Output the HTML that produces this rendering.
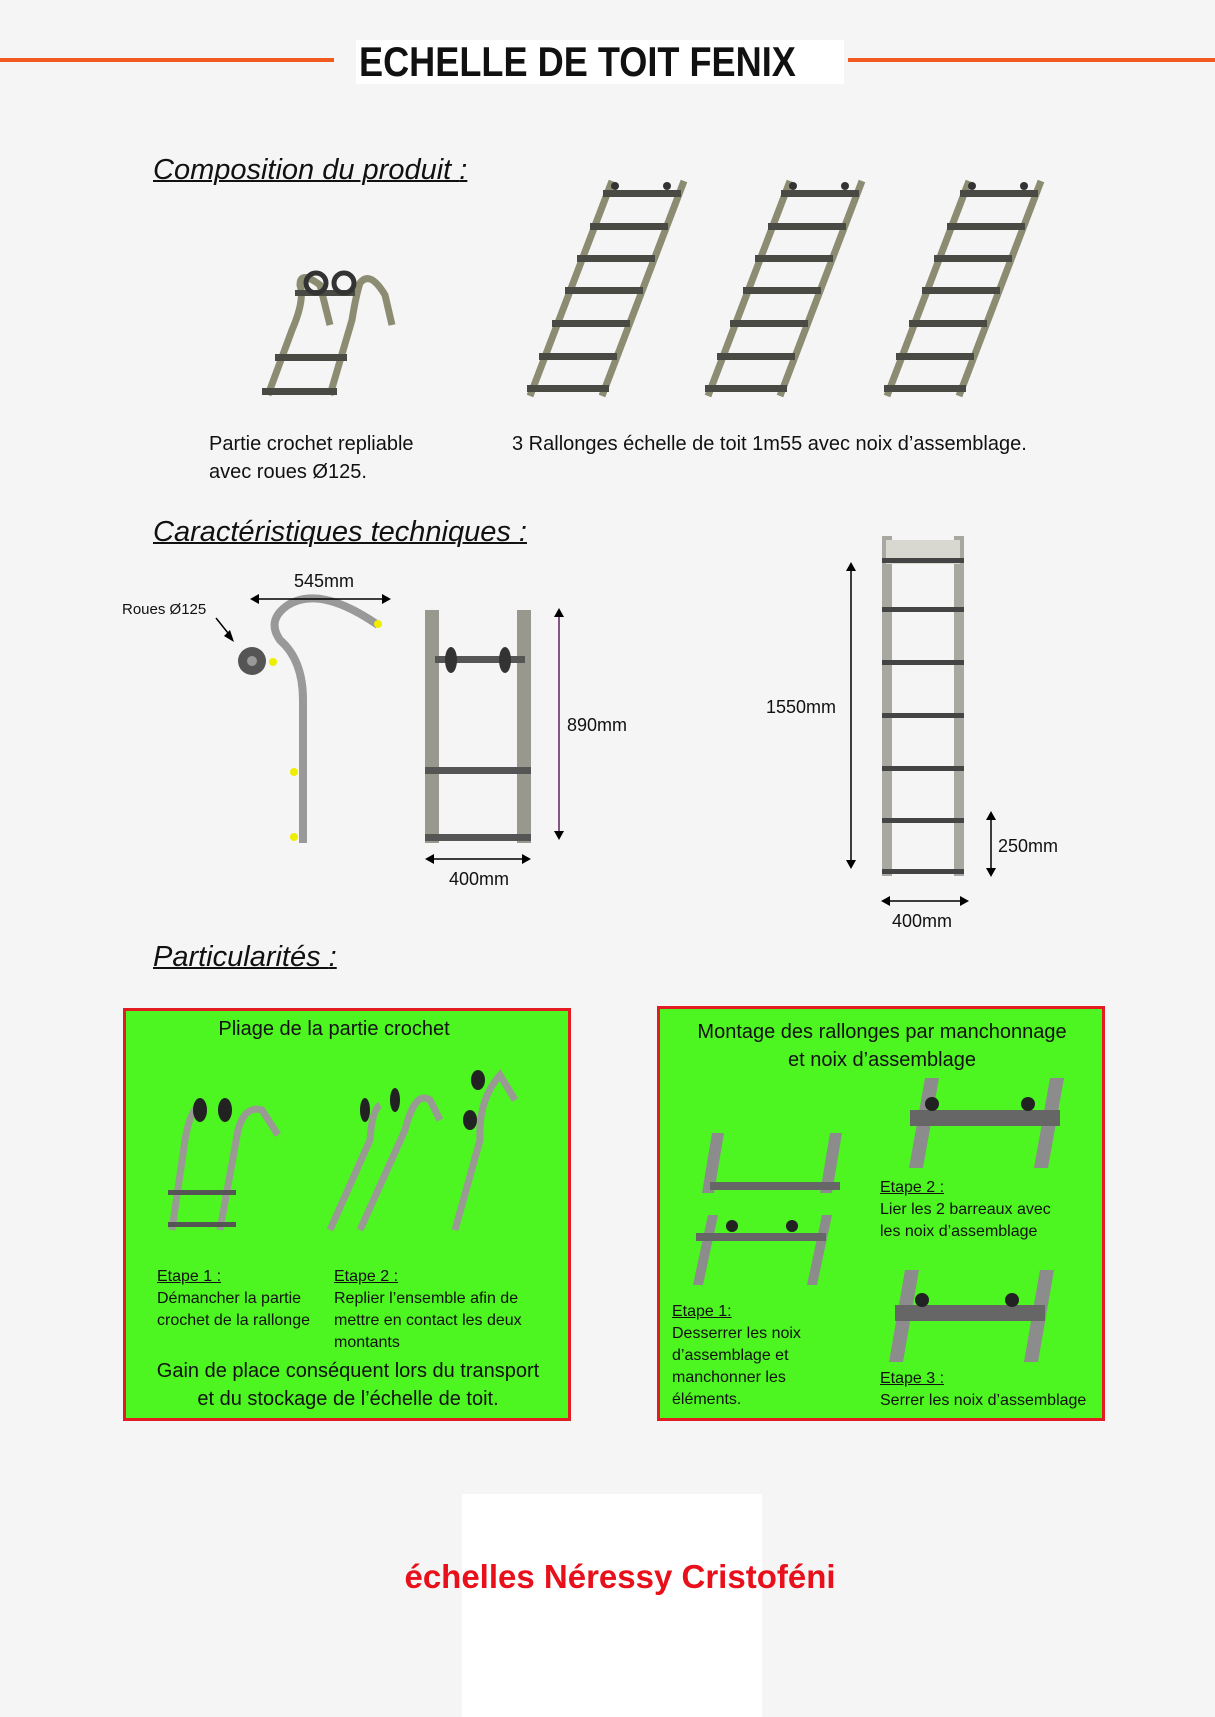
<!DOCTYPE html>
<html><head><meta charset="utf-8"><style>
body{margin:0;background:#f5f5f5}
#p{position:relative;width:1215px;height:1717px;overflow:hidden;background:#f5f5f5;font-family:"Liberation Sans Narrow","Liberation Sans",sans-serif}
.t{position:absolute;white-space:nowrap;color:#111}
.h{font-style:italic;font-size:29px;text-decoration:underline;text-decoration-thickness:2px}
.c{font-size:20px}
.s{font-size:16px;line-height:22px}
.d{font-family:"Liberation Sans",sans-serif;font-size:18px}
</style></head><body><div id="p">
<svg width="1215" height="1717" style="position:absolute;left:0;top:0">
<defs>
<g id="lad">
<line x1="3" y1="218" x2="85" y2="3" stroke="#8c8c72" stroke-width="7"/>
<line x1="75" y1="218" x2="157" y2="3" stroke="#8c8c72" stroke-width="7"/>
<g fill="#4a4a44">
<rect x="0" y="207" width="82" height="7"/><rect x="12" y="175" width="78" height="7"/>
<rect x="25" y="142" width="78" height="7"/><rect x="38" y="109" width="78" height="7"/>
<rect x="50" y="77" width="78" height="7"/><rect x="63" y="45" width="78" height="7"/>
<rect x="76" y="12" width="78" height="7"/>
</g>
<circle cx="88" cy="8" r="4" fill="#333"/><circle cx="140" cy="8" r="4" fill="#333"/>
</g>
</defs>
<rect x="0" y="58" width="334" height="4" fill="#f05a1e"/>
<rect x="848" y="58" width="367" height="4" fill="#f05a1e"/>
<rect x="356" y="40" width="488" height="44" fill="#fff"/>
<use href="#lad" x="527" y="178"/><use href="#lad" x="705" y="178"/><use href="#lad" x="884" y="178"/>
<g stroke="#8c8c72" stroke-width="7" fill="none">
<path d="M268 395 L292 330 Q305 300 300 285 Q300 270 320 285 L330 325"/>
<path d="M330 395 L352 320 Q356 295 360 283 Q370 270 385 295 L392 325"/>
</g>
<g fill="#4a4a44"><rect x="262" y="388" width="75" height="7"/><rect x="275" y="354" width="72" height="7"/><rect x="295" y="290" width="60" height="6"/></g>
<circle cx="316" cy="283" r="10" fill="none" stroke="#333" stroke-width="5"/><circle cx="344" cy="283" r="10" fill="none" stroke="#333" stroke-width="5"/>
<path d="M303 843 L303 700 Q303 660 280 640 Q266 620 288 605 Q320 585 378 625" stroke="#999" stroke-width="8" fill="none"/>
<circle cx="252" cy="661" r="14" fill="#555"/><circle cx="252" cy="661" r="5" fill="#999"/>
<g fill="#ee0"><circle cx="378" cy="624" r="4"/><circle cx="273" cy="662" r="4"/><circle cx="294" cy="772" r="4"/><circle cx="294" cy="837" r="4"/></g>
<line x1="216" y1="618" x2="232" y2="638" stroke="#000" stroke-width="1.5"/><path d="M234 642 L224 636 L230 630Z"/>
<line x1="252" y1="599" x2="389" y2="599" stroke="#000" stroke-width="1.5"/><path d="M250 599 l9 -5 v10z M391 599 l-9 -5 v10z"/>
<rect x="425" y="610" width="14" height="233" fill="#98988f"/><rect x="517" y="610" width="14" height="233" fill="#98988f"/>
<rect x="435" y="656" width="90" height="7" fill="#555"/><ellipse cx="451" cy="660" rx="6" ry="13" fill="#333"/><ellipse cx="505" cy="660" rx="6" ry="13" fill="#333"/>
<rect x="425" y="767" width="106" height="7" fill="#555"/><rect x="425" y="834" width="106" height="7" fill="#555"/>
<line x1="559" y1="612" x2="559" y2="836" stroke="#602060" stroke-width="1.5"/><path d="M559 608 l-5 9 h10z M559 840 l-5 -9 h10z"/>
<line x1="427" y1="859" x2="529" y2="859" stroke="#000" stroke-width="1.5"/><path d="M425 859 l9 -5 v10z M531 859 l-9 -5 v10z"/>
<rect x="882" y="536" width="10" height="340" fill="#a8a8a0"/><rect x="954" y="536" width="10" height="340" fill="#a8a8a0"/>
<rect x="886" y="540" width="74" height="24" fill="#d8d8d0"/>
<g fill="#444"><rect x="882" y="558" width="82" height="5"/><rect x="882" y="607" width="82" height="5"/><rect x="882" y="660" width="82" height="5"/><rect x="882" y="713" width="82" height="5"/><rect x="882" y="766" width="82" height="5"/><rect x="882" y="818" width="82" height="5"/><rect x="882" y="869" width="82" height="5"/></g>
<line x1="851" y1="566" x2="851" y2="865" stroke="#000" stroke-width="1.5"/><path d="M851 562 l-5 9 h10z M851 869 l-5 -9 h10z"/>
<line x1="991" y1="815" x2="991" y2="873" stroke="#000" stroke-width="1.5"/><path d="M991 811 l-5 9 h10z M991 877 l-5 -9 h10z"/>
<line x1="883" y1="901" x2="967" y2="901" stroke="#000" stroke-width="1.5"/><path d="M881 901 l9 -5 v10z M969 901 l-9 -5 v10z"/>
<rect x="124.5" y="1009.5" width="445" height="410" fill="#4df521" stroke="#e31b23" stroke-width="3"/>
<rect x="658.5" y="1007.5" width="445" height="412" fill="#4df521" stroke="#e31b23" stroke-width="3"/>
<g stroke="#9a9a95" stroke-width="7" fill="none">
<path d="M172 1230 L185 1140 Q190 1110 200 1105 M220 1230 L238 1130 Q245 1105 262 1110 L278 1135"/>
<path d="M330 1230 L370 1140 Q372 1110 380 1105 M360 1230 L405 1130 Q415 1090 430 1100 L440 1120"/>
<path d="M455 1230 L480 1140 Q478 1100 500 1075 L515 1100"/>
</g>
<g fill="#555"><rect x="168" y="1190" width="68" height="5"/><rect x="168" y="1222" width="68" height="5"/></g>
<g fill="#222"><ellipse cx="200" cy="1110" rx="7" ry="12"/><ellipse cx="225" cy="1110" rx="7" ry="12"/><ellipse cx="365" cy="1110" rx="5" ry="12"/><ellipse cx="395" cy="1100" rx="5" ry="12"/><ellipse cx="478" cy="1080" rx="7" ry="10"/><ellipse cx="470" cy="1120" rx="7" ry="10"/></g>
<g fill="#8c8c8c">
<path d="M712 1133 h12 l-10 60 h-12z M830 1133 h12 l-10 60 h-12z"/>
<path d="M708 1215 h10 l-15 70 h-10z M822 1215 h10 l-15 70 h-10z"/>
<path d="M925 1078 h14 l-16 90 h-14z M1050 1078 h14 l-16 90 h-14z"/>
<path d="M905 1270 h14 l-16 92 h-14z M1040 1270 h14 l-16 92 h-14z"/>
</g>
<g fill="#666"><rect x="710" y="1182" width="130" height="8"/><rect x="696" y="1233" width="130" height="8"/><rect x="910" y="1110" width="150" height="16"/><rect x="895" y="1305" width="150" height="16"/></g>
<g fill="#222"><circle cx="732" cy="1226" r="6"/><circle cx="792" cy="1226" r="6"/><circle cx="932" cy="1104" r="7"/><circle cx="1028" cy="1104" r="7"/><circle cx="922" cy="1300" r="7"/><circle cx="1012" cy="1300" r="7"/></g>
<rect x="462" y="1494" width="300" height="223" fill="#fff"/>
</svg>
<div class="t" style="left:359px;top:38px;font-size:42px;font-weight:bold;font-family:'Liberation Sans',sans-serif;transform:scaleX(0.86);transform-origin:0 0">ECHELLE DE TOIT FENIX</div>
<div class="t h" style="left:153px;top:154px">Composition du produit <span style="text-decoration:none">:</span></div>
<div class="t c" style="left:209px;top:433px">Partie crochet repliable</div>
<div class="t c" style="left:209px;top:461px">avec roues Ø125.</div>
<div class="t c" style="left:512px;top:433px">3 Rallonges échelle de toit 1m55 avec noix d’assemblage.</div>
<div class="t h" style="left:153px;top:516px">Caractéristiques techniques <span style="text-decoration:none">:</span></div>
<div class="t" style="left:122px;top:601px;font-size:15px;font-family:'Liberation Sans',sans-serif">Roues Ø125</div>
<div class="t d" style="left:294px;top:571px">545mm</div>
<div class="t d" style="left:567px;top:715px">890mm</div>
<div class="t d" style="left:449px;top:869px">400mm</div>
<div class="t d" style="left:766px;top:697px">1550mm</div>
<div class="t d" style="left:998px;top:836px">250mm</div>
<div class="t d" style="left:892px;top:911px">400mm</div>
<div class="t h" style="left:153px;top:941px">Particularités <span style="text-decoration:none">:</span></div>
<div class="t c" style="left:124px;width:420px;text-align:center;top:1018px">Pliage de la partie crochet</div>
<div class="t s" style="left:157px;top:1266px"><u>Etape 1 :</u><br>Démancher la partie<br>crochet de la rallonge</div>
<div class="t s" style="left:334px;top:1266px"><u>Etape 2 :</u><br>Replier l’ensemble afin de<br>mettre en contact les deux<br>montants</div>
<div class="t c" style="left:124px;width:448px;text-align:center;top:1357px;line-height:28px">Gain de place conséquent lors du transport<br>et du stockage de l’échelle de toit.</div>
<div class="t c" style="left:658px;width:448px;text-align:center;top:1018px;line-height:28px">Montage des rallonges par manchonnage<br>et noix d’assemblage</div>
<div class="t s" style="left:880px;top:1177px"><u>Etape 2 :</u><br>Lier les 2 barreaux avec<br>les noix d’assemblage</div>
<div class="t s" style="left:672px;top:1301px"><u>Etape 1:</u><br>Desserrer les noix<br>d’assemblage et<br>manchonner les<br>éléments.</div>
<div class="t s" style="left:880px;top:1368px"><u>Etape 3 :</u><br>Serrer les noix d’assemblage</div>
<div class="t" style="left:0;width:1240px;text-align:center;top:1558px;font-family:'Liberation Sans',sans-serif;font-weight:bold;font-size:33px;color:#e8101a">échelles Néressy Cristoféni</div>
</div></body></html>
